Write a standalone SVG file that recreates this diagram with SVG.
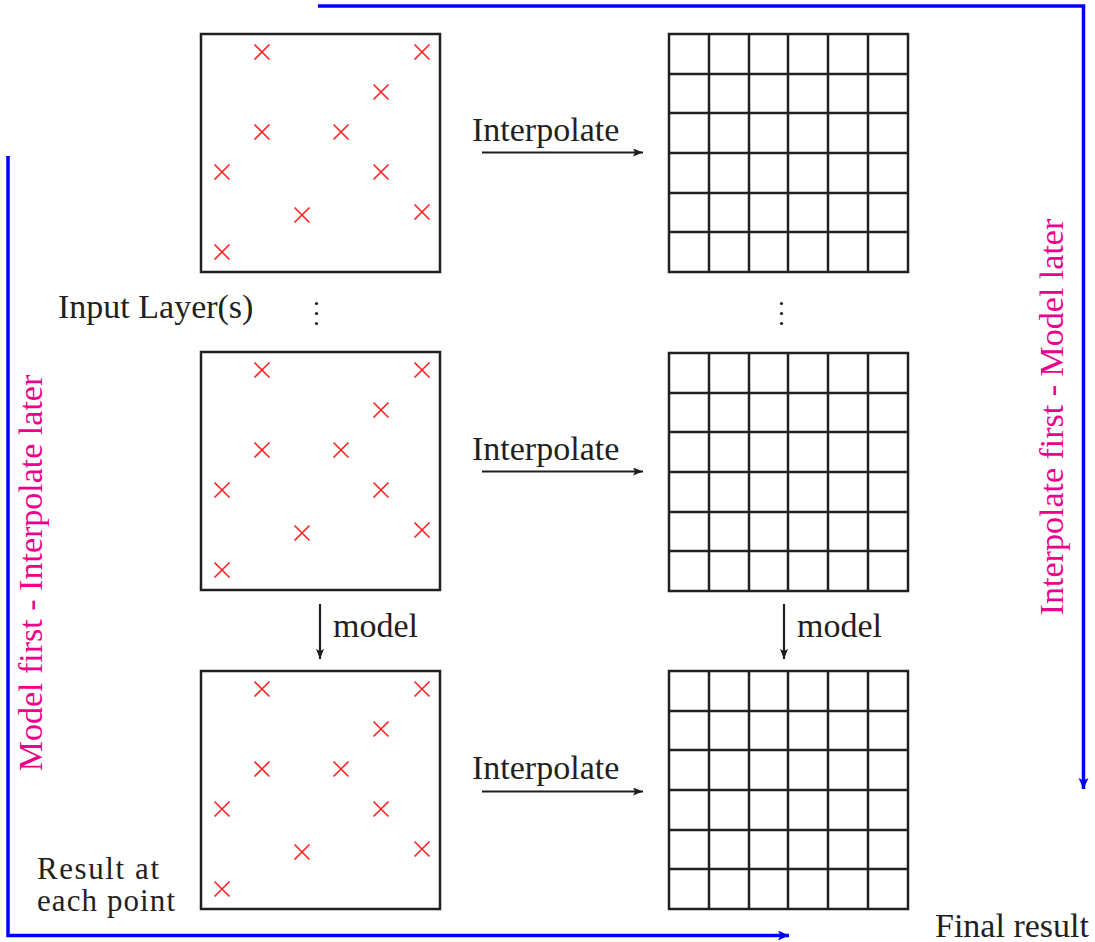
<svg xmlns="http://www.w3.org/2000/svg" xmlns:xlink="http://www.w3.org/1999/xlink" width="1095" height="942" viewBox="0 0 1095 942">
  <style>
    .lbl { font-family: "Liberation Serif", "Times New Roman", serif; font-size: 34px; fill: #231f20; }
    .note { font-family: "Liberation Serif", "Times New Roman", serif; font-size: 31px; fill: #231f20; }
    .flow { font-family: "Liberation Serif", "Times New Roman", serif; font-size: 34px; fill: #ec008c; }
    .frame { fill: #ffffff; stroke: #231f20; stroke-width: 2.5; }
    .gridline { stroke: #231f20; stroke-width: 2.5; fill: none; }
    .cross { stroke: #ff2020; stroke-width: 1.6; fill: none; }
    .step { stroke: #231f20; stroke-width: 2.2; fill: none; }
    .route { stroke: #0000ff; stroke-width: 3.5; fill: none; }
    .dot { fill: #231f20; }
  </style>
  <defs>
    <marker id="ahBlack" markerUnits="userSpaceOnUse" markerWidth="12" markerHeight="10" refX="10" refY="4" orient="auto">
      <path d="M0,0 L10,4 L0,8 L2,4 Z" fill="#231f20"/>
    </marker>
    <marker id="ahBlue" markerUnits="userSpaceOnUse" markerWidth="14" markerHeight="12" refX="11" refY="5" orient="auto">
      <path d="M0,0 L11,5 L0,10 L2.5,5 Z" fill="#0000ff"/>
    </marker>
    <!-- one "x" sample mark, centred on the origin -->
    <path id="xmark" class="cross" d="M-7.5,-7.5 L7.5,7.5 M-7.5,7.5 L7.5,-7.5"/>
    <!-- scattered samples inside a 239px square -->
    <g id="scatter">
      <rect class="frame" x="0" y="0" width="239" height="238"/>
      <use xlink:href="#xmark" x="61" y="18"/>
      <use xlink:href="#xmark" x="221" y="18"/>
      <use xlink:href="#xmark" x="180" y="58"/>
      <use xlink:href="#xmark" x="61" y="98"/>
      <use xlink:href="#xmark" x="140" y="98"/>
      <use xlink:href="#xmark" x="21" y="138"/>
      <use xlink:href="#xmark" x="180" y="138"/>
      <use xlink:href="#xmark" x="101" y="181"/>
      <use xlink:href="#xmark" x="221" y="178"/>
      <use xlink:href="#xmark" x="21" y="218"/>
    </g>
    <!-- regular 6x6 raster -->
    <g id="raster">
      <rect class="frame" x="0" y="0" width="239" height="238"/>
      <path class="gridline" d="M40,0 V238 M80,0 V238 M119,0 V238 M159,0 V238 M199,0 V238
                                M0,40 H239 M0,79 H239 M0,119 H239 M0,159 H239 M0,198 H239"/>
    </g>
  </defs>

  <rect width="1095" height="942" fill="#ffffff"/>

  <!-- left column: point layers -->
  <g id="points-top"><use xlink:href="#scatter" x="201" y="34"/></g>
  <g id="points-mid"><use xlink:href="#scatter" x="201" y="352"/></g>
  <g id="points-result"><use xlink:href="#scatter" x="201" y="671"/></g>

  <!-- right column: rasters -->
  <g id="raster-top"><use xlink:href="#raster" x="669" y="34"/></g>
  <g id="raster-mid"><use xlink:href="#raster" x="669" y="353"/></g>
  <g id="raster-result"><use xlink:href="#raster" x="669" y="671"/></g>

  <!-- labels -->
  <g id="labels">
    <text class="lbl" x="58" y="318">Input Layer(s)</text>
    <text class="note" x="37" y="879" textLength="122" lengthAdjust="spacing">Result at</text>
    <text class="note" x="37" y="911" textLength="138" lengthAdjust="spacing">each point</text>
    <text class="lbl" x="935" y="937">Final result</text>
    <circle class="dot" cx="316.5" cy="303.5" r="1.6"/>
    <circle class="dot" cx="316.5" cy="313.5" r="1.6"/>
    <circle class="dot" cx="316.5" cy="323.5" r="1.6"/>
    <circle class="dot" cx="781.5" cy="303.5" r="1.6"/>
    <circle class="dot" cx="781.5" cy="313.5" r="1.6"/>
    <circle class="dot" cx="781.5" cy="323.5" r="1.6"/>
  </g>

  <!-- connectors -->
  <g id="connectors">
    <line class="step" x1="482" y1="152.5" x2="643" y2="152.5" marker-end="url(#ahBlack)"/>
    <text class="lbl" x="472" y="141">Interpolate</text>
    <line class="step" x1="482" y1="471.5" x2="643" y2="471.5" marker-end="url(#ahBlack)"/>
    <text class="lbl" x="472" y="460">Interpolate</text>
    <line class="step" x1="482" y1="791.5" x2="643" y2="791.5" marker-end="url(#ahBlack)"/>
    <text class="lbl" x="472" y="779">Interpolate</text>

    <line class="step" x1="320" y1="604" x2="320" y2="659" marker-end="url(#ahBlack)"/>
    <text class="lbl" x="333" y="637">model</text>
    <line class="step" x1="784" y1="604" x2="784" y2="659" marker-end="url(#ahBlack)"/>
    <text class="lbl" x="797" y="637">model</text>

    <!-- route: interpolate first, model later -->
    <path class="route" d="M318,6 H1083.5 V789" marker-end="url(#ahBlue)"/>
    <text class="flow" transform="translate(1063,417) rotate(-90)" text-anchor="middle">Interpolate first - Model later</text>

    <!-- route: model first, interpolate later -->
    <path class="route" d="M8,156 V935.5 H789" marker-end="url(#ahBlue)"/>
    <text class="flow" transform="translate(42,573) rotate(-90)" text-anchor="middle">Model first - Interpolate later</text>
  </g>
</svg>
